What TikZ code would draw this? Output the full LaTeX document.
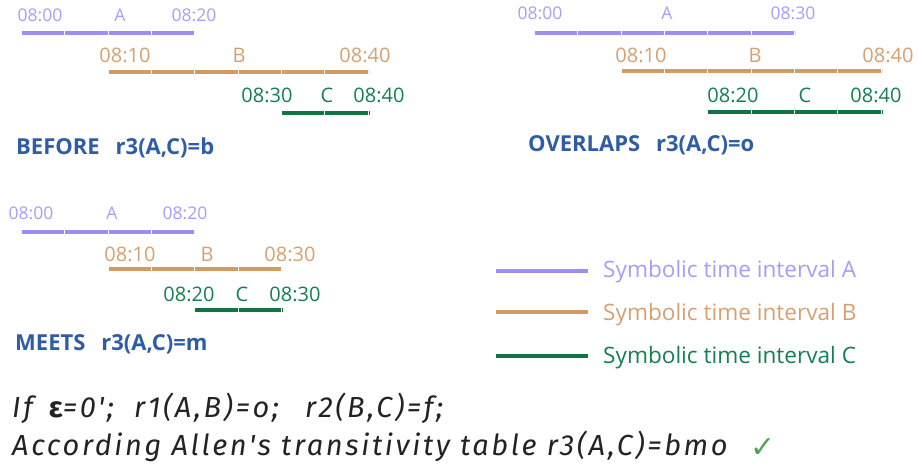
\documentclass[tikz,border=0pt]{standalone}
\usepackage{fontspec}
\setmainfont{Open Sans}
\newfontfamily\handfont{Fira Sans}[LetterSpace=9]
\newfontfamily\symfont{DejaVu Sans}

\definecolor{ivA}{RGB}{155,143,245}
\definecolor{ivAtext}{RGB}{168,156,246}
\definecolor{ivB}{RGB}{210,155,100}
\definecolor{ivBtext}{RGB}{214,160,112}
\definecolor{ivC}{RGB}{18,116,66}
\definecolor{ivCtext}{RGB}{20,128,80}
\definecolor{titleblue}{RGB}{47,92,164}
\definecolor{handink}{RGB}{35,35,35}
\definecolor{tickgreen}{RGB}{85,165,85}

\tikzset{
  ivl/.style={line width=4pt, dash pattern=on 42.33pt off 1pt},
  lbl/.style={anchor=base, inner sep=0pt, font=\fontsize{20}{20}\selectfont},
  lblA/.style={lbl, font=\fontsize{17.5}{17.5}\selectfont},
  ttl/.style={anchor=base west, inner sep=0pt, text=titleblue,
    font=\fontsize{22}{22}\selectfont\bfseries},
  keyline/.style={line width=4.5pt},
  keytext/.style={anchor=base west, inner sep=0pt, font=\fontsize{22.6}{22.6}\selectfont},
  hand/.style={anchor=base west, inner sep=0pt, text=handink,
    font=\fontsize{29}{29}\selectfont\handfont\itshape},
}

\begin{document}
\begin{tikzpicture}[x=1pt,y=-1pt]
\useasboundingbox (0,0) rectangle (918,468);

% ---------- BEFORE ----------
\coordinate (bA1) at (22,33);    \coordinate (bA2) at (195.3,33);
\coordinate (bB1) at (108.7,72); \coordinate (bB2) at (368.7,72);
\coordinate (bC1) at (282,113);  \coordinate (bC2) at (368.7,113);
\draw[ivl, ivA] (bA1) -- (bA2);
\draw[ivl, ivB] (bB1) -- (bB2);
\draw[ivl, ivC] (bC1) -- (bC2);
\node[lblA, text=ivAtext] (bAs) at (40,22) {08:00};
\node[lblA, text=ivAtext] (bAn) at (120,22) {A};
\node[lblA, text=ivAtext] (bAe) at (194,22) {08:20};
\node[lbl, text=ivBtext] (bBs) at (125,63) {08:10};
\node[lbl, text=ivBtext] (bBn) at (239,63) {B};
\node[lbl, text=ivBtext] (bBe) at (365,63) {08:40};
\node[lbl, text=ivCtext] (bCs) at (267,103) {08:30};
\node[lbl, text=ivCtext] (bCn) at (327,103) {C};
\node[lbl, text=ivCtext] (bCe) at (379,103) {08:40};
\node[ttl] (bT) at (16,154) {BEFORE\hspace{16pt}r3(A,C)=b};

% ---------- OVERLAPS ----------
\coordinate (oA1) at (535,33);    \coordinate (oA2) at (795,33);
\coordinate (oB1) at (621.7,71);  \coordinate (oB2) at (881.7,71);
\coordinate (oC1) at (708.3,112); \coordinate (oC2) at (881.7,112);
\draw[ivl, ivA] (oA1) -- (oA2);
\draw[ivl, ivB] (oB1) -- (oB2);
\draw[ivl, ivC] (oC1) -- (oC2);
\node[lblA, text=ivAtext] (oAs) at (540,20) {08:00};
\node[lblA, text=ivAtext] (oAn) at (667,20) {A};
\node[lblA, text=ivAtext] (oAe) at (793,20) {08:30};
\node[lbl, text=ivBtext] (oBs) at (641,63) {08:10};
\node[lbl, text=ivBtext] (oBn) at (755,63) {B};
\node[lbl, text=ivBtext] (oBe) at (888,63) {08:40};
\node[lbl, text=ivCtext] (oCs) at (733,103) {08:20};
\node[lbl, text=ivCtext] (oCn) at (805,103) {C};
\node[lbl, text=ivCtext] (oCe) at (876,103) {08:40};
\node[ttl] (oT) at (528,152) {OVERLAPS\hspace{16pt}r3(A,C)=o};

% ---------- MEETS ----------
\coordinate (mA1) at (22,232);    \coordinate (mA2) at (195.3,232);
\coordinate (mB1) at (108.7,269); \coordinate (mB2) at (282,269);
\coordinate (mC1) at (195.3,310); \coordinate (mC2) at (282,310);
\draw[ivl, ivA] (mA1) -- (mA2);
\draw[ivl, ivB] (mB1) -- (mB2);
\draw[ivl, ivC] (mC1) -- (mC2);
\node[lblA, text=ivAtext] (mAs) at (31,219) {08:00};
\node[lblA, text=ivAtext] (mAn) at (112,219) {A};
\node[lblA, text=ivAtext] (mAe) at (185,219) {08:20};
\node[lbl, text=ivBtext] (mBs) at (130,261) {08:10};
\node[lbl, text=ivBtext] (mBn) at (207,261) {B};
\node[lbl, text=ivBtext] (mBe) at (290,261) {08:30};
\node[lbl, text=ivCtext] (mCs) at (189,301) {08:20};
\node[lbl, text=ivCtext] (mCn) at (242,301) {C};
\node[lbl, text=ivCtext] (mCe) at (295,301) {08:30};
\node[ttl] (mT) at (15,350) {MEETS\hspace{16pt}r3(A,C)=m};

% ---------- legend ----------
\coordinate (kA1) at (496,271); \coordinate (kA2) at (588,271);
\coordinate (kB1) at (496,312); \coordinate (kB2) at (588,312);
\coordinate (kC1) at (496,356); \coordinate (kC2) at (588,356);
\draw[keyline, ivA] (kA1) -- (kA2);
\draw[keyline, ivB] (kB1) -- (kB2);
\draw[keyline, ivC] (kC1) -- (kC2);
\node[keytext, text=ivAtext] (kAt) at (603,277) {Symbolic time interval A};
\node[keytext, text=ivBtext] (kBt) at (603,320) {Symbolic time interval B};
\node[keytext, text=ivCtext] (kCt) at (603,363) {Symbolic time interval C};

% ---------- conclusion ----------
\node[hand] (line1) at (12,417) {If\hspace{6pt} {\bfseries\upshape ε}=0';\hspace{10pt} r1(A,B)=o;\hspace{16pt} r2(B,C)=f;};
\node[hand] (line2) at (12,455) {According Allen's transitivity table r3(A,C)=bmo};
\node[anchor=base west, inner sep=0pt, text=tickgreen,
  font=\fontsize{30}{30}\selectfont\symfont] (tick) at (750,457) {✓};
\end{tikzpicture}
\end{document}
